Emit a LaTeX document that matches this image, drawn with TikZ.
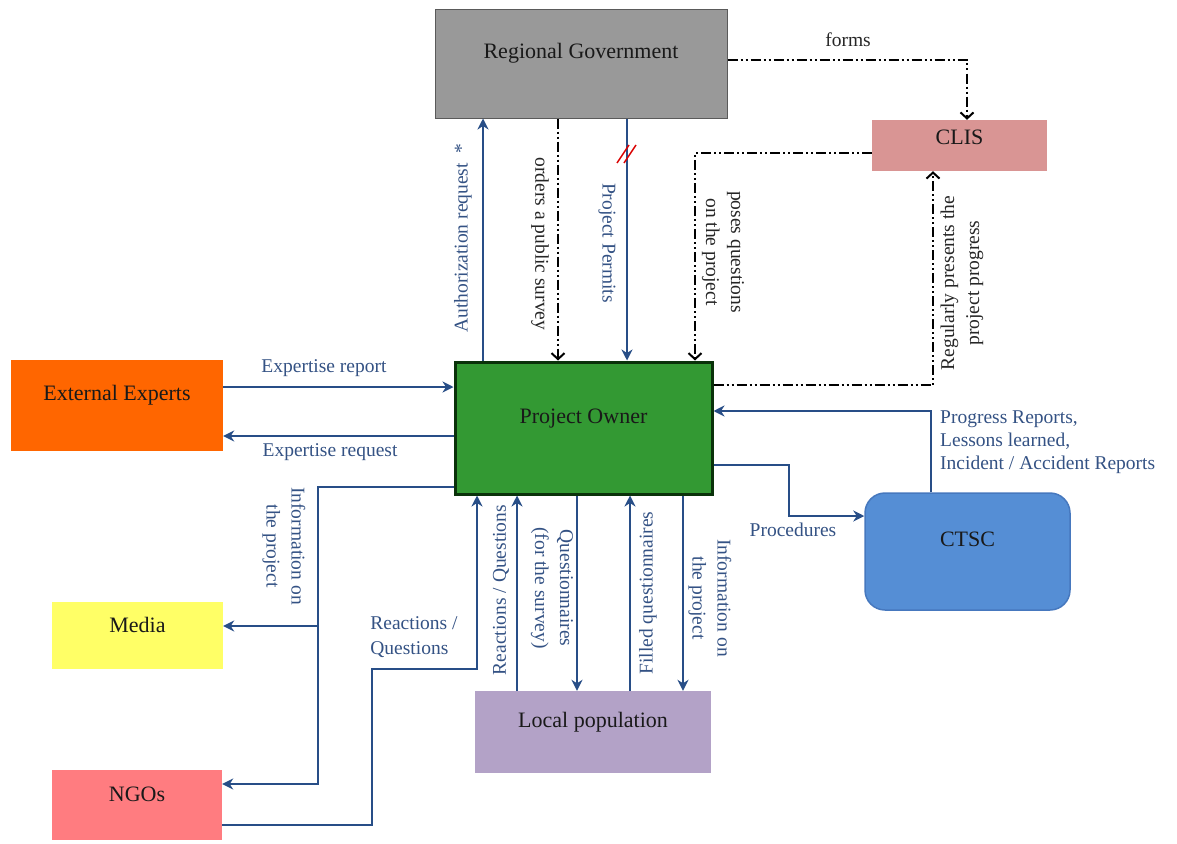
\documentclass[tikz,border=0pt]{standalone}
\usepackage{fontspec}
\setmainfont{Liberation Serif}
\usetikzlibrary{arrows.meta}
\definecolor{lineblue}{RGB}{40,78,135}
\definecolor{txtblue}{RGB}{52,82,132}
\definecolor{rgfill}{RGB}{153,153,153}
\definecolor{rgdraw}{RGB}{90,90,90}
\definecolor{clisfill}{RGB}{217,149,148}
\definecolor{eefill}{RGB}{255,102,0}
\definecolor{pofill}{RGB}{51,153,51}
\definecolor{podraw}{RGB}{10,50,10}
\definecolor{ctscfill}{RGB}{85,142,213}
\definecolor{ctscdraw}{RGB}{70,120,190}
\definecolor{mediafill}{RGB}{255,255,102}
\definecolor{ngofill}{RGB}{255,124,128}
\definecolor{lpfill}{RGB}{179,162,199}
\begin{document}
\begin{tikzpicture}[x=1pt,y=-1pt,
  box/.style={rectangle, inner sep=0pt, text height=13pt, text depth=23pt,
    font=\fontsize{22}{26}\selectfont, text=black!90},
  bl/.style={draw=lineblue, line width=2.5pt, -{Stealth[length=11pt,width=11pt,inset=3.5pt]}},
  dd/.style={draw=black, line width=2pt, dash pattern=on 10pt off 3pt on 2pt off 3pt on 2pt off 3pt,
    -{Straight Barb[length=6pt,width=13pt]}},
  lb/.style={font=\fontsize{19.5}{25}\selectfont, text=txtblue, inner sep=0pt},
  lk/.style={font=\fontsize{19.5}{25}\selectfont, text=black!85, inner sep=0pt}
]
\useasboundingbox (0,0) rectangle (1177,843);

% boxes
\node[box, fill=rgfill, draw=rgdraw, line width=1pt, minimum width=292, minimum height=108] (rg) at (581,64) {Regional Government};
\node[box, fill=clisfill, minimum width=175, minimum height=51, text height=13pt, text depth=15pt] (clis) at (959.5,145.5) {CLIS};
\node[box, fill=eefill, minimum width=212, minimum height=91] (ee) at (117,405.5) {External Experts};
\node[box, fill=pofill, draw=podraw, line width=3pt, minimum width=257, minimum height=132] (po) at (583.5,428) {Project Owner};
\node[box, fill=ctscfill, draw=ctscdraw, line width=1.5pt, rounded corners=20pt, minimum width=205, minimum height=117] (ctsc) at (967.5,551.5) {CTSC};
\node[box, fill=mediafill, minimum width=171, minimum height=67, text depth=20pt] (media) at (137.5,635.5) {Media};
\node[box, fill=ngofill, minimum width=170, minimum height=70, text depth=20pt] (ngo) at (137,805) {NGOs};
\node[box, fill=lpfill, minimum width=236, minimum height=82] (lp) at (593,732) {Local population};

% helper coordinates
\coordinate (cAuth) at (483,0);
\coordinate (cSurv) at (558,0);
\coordinate (cPerm) at (627,0);
\coordinate (cPoses) at (695,153);
\coordinate (cForms) at (967,60);
\coordinate (cReg) at (933,385);
\coordinate (cExpRep) at (0,387);
\coordinate (cExpReq) at (0,436);
\coordinate (cInfo) at (318,487);
\coordinate (cInfoM) at (318,626);
\coordinate (cInfoN) at (318,784);
\coordinate (cR0) at (0,825);
\coordinate (cR1) at (372,825);
\coordinate (cR2) at (372,669);
\coordinate (cR3) at (477,669);
\coordinate (cLP1) at (517,0);
\coordinate (cLP2) at (577,0);
\coordinate (cLP3) at (630,0);
\coordinate (cLP4) at (683,0);
\coordinate (cProc1) at (789,465);
\coordinate (cProc2) at (789,516);
\coordinate (cProg) at (931,411);

% top connectors
\draw[bl] (po.north -| cAuth) -- (rg.south -| cAuth);
\draw[dd] (rg.south -| cSurv) -- (po.north -| cSurv);
\draw[bl] (rg.south -| cPerm) -- (po.north -| cPerm);
\draw[red!85!black, line width=1.5pt] (617,163) -- (629,145) (624,163) -- (636,145);
\draw[dd] (clis.west |- cPoses) -| (po.north -| cPoses);
\draw[dd] (rg.east |- cForms) -| (clis.north -| cForms);
\draw[dd] (po.east |- cReg) -| (clis.south -| cReg);

% left connectors
\draw[bl] (ee.east |- cExpRep) -- (po.west |- cExpRep);
\draw[bl] (po.west |- cExpReq) -- (ee.east |- cExpReq);
\draw[bl] (po.west |- cInfo) -- (cInfo) -- (cInfoN) -- (ngo.east |- cInfoN);
\draw[bl] (cInfoM) -- (media.east |- cInfoM);
\draw[bl] (ngo.east |- cR0) -- (cR1) -- (cR2) -- (cR3) -- (po.south -| cR3);

% bottom connectors
\draw[bl] (lp.north -| cLP1) -- (po.south -| cLP1);
\draw[bl] (po.south -| cLP2) -- (lp.north -| cLP2);
\draw[bl] (lp.north -| cLP3) -- (po.south -| cLP3);
\draw[bl] (po.south -| cLP4) -- (lp.north -| cLP4);

% right connectors
\draw[bl] (po.east |- cProc1) -- (cProc1) -- (cProc2) -- (ctsc.west |- cProc2);
\draw[bl] (ctsc.north -| cProg) -- (cProg) -- (po.east |- cProg);

% labels
\node[lb, rotate=90] (lAuth) at (463,238) {Authorization request\hspace{10pt}*};
\node[lk, rotate=-90] (lSurv) at (540,244) {orders a public survey};
\node[lb, rotate=-90] (lPerm) at (607,243) {Project Permits};
\node[lk, rotate=-90, align=center] (lPoses) at (723,252) {poses questions\\on the project};
\node[lk] (lForms) at (848,40) {forms};
\node[lk, rotate=90, align=center] (lReg) at (962,283) {Regularly presents the\\project progress};
\node[lb] (lExpRep) at (324,368) {Expertise report};
\node[lb] (lExpReq) at (330,452) {Expertise request};
\node[lb, rotate=-90, align=center] (lInfoL) at (284,546) {Information on\\the project};
\node[lb, align=left] (lReact) at (414,637) {Reactions /\\Questions};
\node[lb, rotate=90] (lReactLP) at (501,590) {Reactions / Questions};
\node[lb, rotate=-90, align=center] (lQuest) at (552,588) {Questionnaires\\(for the survey)};
\node[lb, rotate=90] (lFilled) at (648,593) {Filled questionnaires};
\node[lb, rotate=-90, align=center] (lInfoLP) at (710,598) {Information on\\the project};
\node[lb] (lProc) at (793,530) {Procedures};
\node[lb, align=left, anchor=north west, font=\fontsize{19.5}{23}\selectfont] (lProg) at (940,411) {Progress Reports,\\Lessons learned,\\Incident / Accident Reports};
\end{tikzpicture}
\end{document}
